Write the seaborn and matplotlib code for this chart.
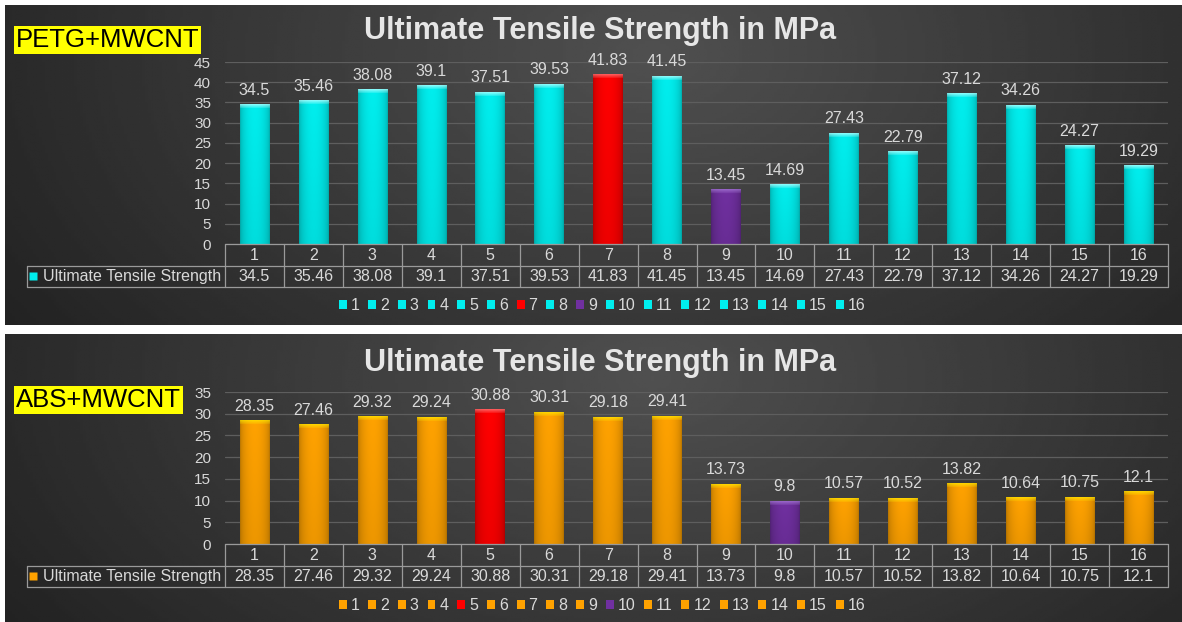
import numpy as np
import pandas as pd
import matplotlib
matplotlib.use("Agg")
import matplotlib.pyplot as plt
import matplotlib.colors as mcolors
import seaborn as sns

# ---------------- data ----------------
categories = [str(i) for i in range(1, 17)]
petg_values = [34.5, 35.46, 38.08, 39.1, 37.51, 39.53, 41.83, 41.45,
               13.45, 14.69, 27.43, 22.79, 37.12, 34.26, 24.27, 19.29]
abs_values = [28.35, 27.46, 29.32, 29.24, 30.88, 30.31, 29.18, 29.41,
              13.73, 9.8, 10.57, 10.52, 13.82, 10.64, 10.75, 12.1]
petg_red, petg_purple = "7", "9"
abs_red, abs_purple = "5", "10"
title_text = "Ultimate Tensile Strength in MPa"
series_name = "Ultimate Tensile Strength"
petg_label = "PETG+MWCNT"
abs_label = "ABS+MWCNT"

CYAN, ORANGE, RED, PURPLE = "#00EEEE", "#FFA200", "#FF0000", "#7030A0"
CAP = {CYAN: "#A8FFFF", ORANGE: "#FFE000", RED: "#FF7070", PURPLE: "#A070D0"}

def make_palette(base, red, purple):
    pal = {c: base for c in categories}
    pal[red] = RED
    pal[purple] = PURPLE
    return pal

petg_palette = make_palette(CYAN, petg_red, petg_purple)
abs_palette = make_palette(ORANGE, abs_red, abs_purple)

# ---------------- style ----------------
sns.set_theme(style="dark")
plt.rcParams["font.family"] = ["Liberation Sans", "DejaVu Sans"]

W, H = 1182, 622
fig = plt.figure(figsize=(W / 100, H / 100), dpi=100, facecolor="white")

TXT = "#d9d9d9"
LINE = "#9a9a9a"


def px_rect(l, t, r, b):
    return [l / W, 1 - b / H, (r - l) / W, (b - t) / H]


def background(l, t, r, b):
    bg = fig.add_axes(px_rect(l, t, r, b), zorder=-10)
    bg.axis("off")
    X, Y = np.meshgrid(np.linspace(0, 1, 400), np.linspace(0, 1, 120))
    d = np.sqrt(((X - 0.55) / 0.55) ** 2 + ((Y - 0.15) / 1.3) ** 2)
    v = np.clip(0x50 / 255 - 0.15 * d, 0.11, 1)
    bg.imshow(v, cmap="gray", vmin=0, vmax=1, extent=[0, 1, 0, 1],
              aspect="auto", origin="upper")


def shade_bar(ax, bar):
    x0, y0 = bar.get_x(), bar.get_y()
    w, h = bar.get_width(), bar.get_height()
    base_hex = mcolors.to_hex(bar.get_facecolor()).upper()
    base = np.array(mcolors.to_rgb(base_hex))
    cap = np.array(mcolors.to_rgb(CAP.get(base_hex, base_hex)))
    (px0, py0), (px1, py1) = ax.transData.transform([(x0, y0), (x0 + w, y0 + h)])
    nh = max(int(round(py1 - py0)), 3)
    xs = np.linspace(0, 1, 40)
    prof = 0.74 + 0.26 * np.sin(np.pi * xs) ** 0.5
    img = np.ones((nh, 1, 1)) * base[None, None, :] * prof[None, :, None]
    vert = np.linspace(1.0, 0.93, nh)[:, None, None]
    img = img * vert
    ncap = min(4, nh // 3)
    for k in range(ncap):
        a = 0.8 - 0.18 * k
        img[k] = img[k] * (1 - a) + cap[None, :] * a * prof[:, None] ** 0.3
    ax.imshow(np.clip(img, 0, 1), extent=[x0, x0 + w, y0, y0 + h],
              aspect="auto", origin="upper", zorder=bar.get_zorder() + 0.1,
              interpolation="bilinear")


def draw_panel(values, palette, ymax, bar_px, tab_px, title_y, legend_y,
               label, label_y):
    l, t, r, b = bar_px
    ax = fig.add_axes(px_rect(l, t, r, b))
    ax.set_facecolor("none")
    df = pd.DataFrame({"cat": categories, "val": values})
    sns.barplot(data=df, x="cat", y="val", hue="cat", order=categories,
                hue_order=categories, palette=palette, dodge=False,
                width=0.5, saturation=1, ax=ax, legend=True,
                edgecolor="none", linewidth=0)
    ax.set_xlim(-0.5, len(categories) - 0.5)
    ax.set_ylim(0, ymax)
    ax.set_yticks(np.arange(0, ymax + 1, 5))
    ax.set_xticks([])
    ax.set_xlabel("")
    ax.set_ylabel("")
    for s in ax.spines.values():
        s.set_visible(False)
    ax.grid(axis="y", color="#5e5e5e", lw=0.9)
    ax.grid(axis="x", visible=False)
    ax.set_axisbelow(True)
    ax.tick_params(axis="y", colors=TXT, labelsize=11, length=0, pad=10)

    for cont in ax.containers:
        for bar in cont:
            shade_bar(ax, bar)
        ax.bar_label(cont, labels=[f"{v:g}" for v in cont.datavalues],
                     padding=5, color=TXT, fontsize=11.5)
    ax.set_xlim(-0.5, len(categories) - 0.5)
    ax.set_ylim(0, ymax)

    sns.move_legend(ax, "center", bbox_to_anchor=(602 / W, 1 - legend_y / H),
                    bbox_transform=fig.transFigure, ncol=len(categories),
                    frameon=False, title=None, handlelength=0.5,
                    handleheight=0.5, handletextpad=0.25, columnspacing=0.55,
                    fontsize=11.5, labelcolor=TXT)
    for hnd in ax.get_legend().legend_handles:
        hnd.set_edgecolor("none")
        hnd.set_linewidth(0)

    # data table
    tl, tt, tr, tb = tab_px
    tax = fig.add_axes(px_rect(tl, tt, tr, tb))
    tax.set_xlim(-0.5, len(categories) - 0.5)
    tax.set_ylim(2, 0)
    tax.axis("off")
    cell = (tr - tl) / len(categories)
    x_left = -0.5 - (tl - 27) / cell
    n = len(categories)
    kw = dict(color=LINE, lw=0.9, clip_on=False)
    tax.plot([-0.5, n - 0.5], [0, 0], **kw)
    tax.plot([x_left, n - 0.5], [1, 1], **kw)
    tax.plot([x_left, n - 0.5], [2, 2], **kw)
    for i in range(n + 1):
        tax.plot([i - 0.5, i - 0.5], [0, 2], **kw)
    tax.plot([x_left, x_left], [1, 2], **kw)
    for i, (c, v) in enumerate(zip(categories, values)):
        tax.text(i, 0.52, c, ha="center", va="center", color=TXT, fontsize=11.5)
        tax.text(i, 1.52, f"{v:g}", ha="center", va="center", color=TXT,
                 fontsize=11.5)
    base = CYAN if palette[categories[0]] == CYAN else ORANGE
    tax.plot([x_left + 6 / cell], [1.5], marker="s", ms=5.5, color=base,
             mec="none", clip_on=False)
    tax.text(x_left + 16 / cell, 1.52, series_name, ha="left", va="center",
             color=TXT, fontsize=11.5)

    fig.text(600 / W, 1 - title_y / H, title_text, ha="center", va="center",
             fontsize=22, fontweight="bold", color="#e6e6e6")
    fig.text(16 / W, 1 - label_y / H, label, ha="left", va="center",
             fontsize=18.5, color="black",
             bbox=dict(boxstyle="square,pad=0.06", facecolor="#FFFF00",
                       edgecolor="none"))


background(5, 5, 1182, 325)
background(5, 334, 1182, 622)

draw_panel(petg_values, petg_palette, 45, (225, 62, 1168, 244),
           (225, 244, 1168, 287), 31, 306, petg_label, 40)
draw_panel(abs_values, abs_palette, 35, (225, 392, 1168, 544),
           (225, 544, 1168, 587), 363, 606, abs_label, 400)

fig.savefig("out.png", dpi=100, facecolor="white")
